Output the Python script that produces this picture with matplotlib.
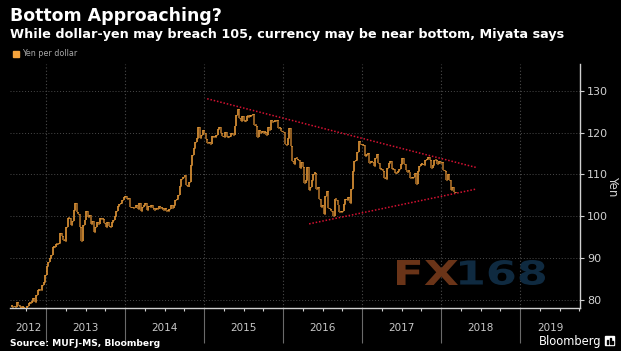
import numpy as np
import pandas as pd
import matplotlib
matplotlib.use("Agg")
import matplotlib.pyplot as plt
from matplotlib.patches import Rectangle, PathPatch
from matplotlib.textpath import TextPath
from matplotlib.font_manager import FontProperties
from matplotlib.transforms import Affine2D

# weekly closes, yen per dollar (Friday closes from 27 Jul 2012)
close_2012 = [78.4,
              78.3, 78.3, 79.5, 78.7, 78.3,
              78.2, 78.4, 78.1, 77.9,
              78.6, 79.3, 79.4, 79.7,
              80.4, 79.5, 81.3, 82.4, 82.5,
              82.4, 83.5, 84.2, 85.9]
close_2013 = [88.1, 89.2, 90.0, 90.8,
              92.7, 92.7, 93.5, 93.4,
              93.6, 96.0, 95.2, 94.4, 94.2,
              97.5, 99.6, 99.5, 98.0,
              99.0, 101.6, 103.2, 101.0, 100.5,
              97.5, 94.1, 97.9, 99.2,
              101.2, 99.8, 100.4, 98.2,
              98.9, 96.2, 97.5, 98.7, 98.1,
              99.7, 99.4, 99.4, 98.3,
              97.5, 98.6, 97.7, 97.4,
              98.7, 99.1, 100.2, 101.3, 102.4,
              102.9, 103.2, 104.0, 104.6]
close_2014 = [104.9, 104.2, 104.3, 102.3, 102.0,
              102.0, 101.9, 102.6, 101.8,
              103.3, 101.3, 102.3, 102.8,
              103.3, 101.6, 102.4, 102.2,
              102.6, 101.9, 101.5, 101.9, 101.8,
              102.5, 102.0, 102.0, 101.4,
              102.1, 101.3, 101.3, 101.8,
              102.6, 102.0, 102.6, 103.8, 104.1,
              105.0, 107.3, 109.0, 109.3,
              109.8, 107.6, 106.9, 108.1, 112.3,
              114.6, 116.3, 117.8, 118.6,
              121.4, 118.8, 119.5, 120.7]
close_2015 = [119.8, 118.5, 117.5, 117.8, 117.4,
              119.1, 118.9, 119.0, 119.5,
              120.8, 121.4, 120.0, 119.1,
              119.0, 120.2, 118.9, 118.9,
              119.3, 119.8, 119.4, 121.5, 124.1,
              125.6, 123.4, 122.7, 123.9,
              122.8, 122.8, 124.0, 123.8, 123.9,
              124.2, 124.4, 121.9, 121.7,
              119.0, 120.6, 120.0, 120.5,
              120.0, 120.2, 119.4, 121.4, 120.6,
              123.1, 122.6, 122.8, 122.8,
              123.1, 121.0, 121.2, 120.3]
close_2016 = [120.2, 117.2, 117.0, 118.8, 121.1,
              116.8, 113.2, 112.6, 114.0,
              113.8, 113.4, 111.6, 113.0,
              111.7, 108.0, 108.8, 111.8, 106.3,
              107.1, 108.6, 110.2, 110.3,
              106.6, 106.9, 104.1, 102.3,
              102.6, 100.6, 104.9, 106.1, 102.1,
              101.8, 101.3, 100.2, 104.1,
              104.0, 102.7, 101.0, 101.0, 101.3,
              103.0, 104.2, 103.8, 104.7,
              103.1, 106.6, 110.9, 113.2,
              113.5, 115.3, 117.9, 117.3, 117.0]
close_2017 = [117.0, 114.5, 114.6, 115.1,
              112.7, 113.2, 112.9, 112.1,
              114.0, 114.8, 112.7, 111.3, 111.4,
              110.8, 109.1, 109.0, 111.5,
              112.7, 113.3, 111.3, 111.3,
              110.4, 110.3, 110.9, 111.3, 112.4,
              113.9, 112.5, 111.1, 110.7,
              110.7, 109.2, 109.2, 109.4,
              110.3, 107.8, 110.8, 112.0, 112.5,
              112.6, 112.2, 113.5, 113.7,
              114.1, 113.5, 111.5, 112.2,
              113.5, 113.4, 112.6, 113.3, 112.7]
close_2018 = [113.1, 111.0, 110.8, 108.6,
              110.2, 108.8, 106.3, 106.9,
              105.7, 105.6]

# trend lines (decimal year, yen)
upper_x = [2015.04, 2018.44]
upper_y = [128.1, 111.7]
lower_x = [2016.33, 2018.44]
lower_y = [98.2, 106.5]

yticks = [80, 90, 100, 110, 120, 130]
years = [2012, 2013, 2014, 2015, 2016, 2017, 2018, 2019]

closes = np.array(close_2012 + close_2013 + close_2014 + close_2015 +
                  close_2016 + close_2017 + close_2018)
dates = pd.date_range("2012-07-27", periods=len(closes), freq="W-FRI")
xs = dates.year + (dates.dayofyear - 1) / 365.25
opens = np.concatenate([[closes[0]], closes[:-1]])

W, H = 621, 351
def fx(p):
    return p / W
def fy(p):
    return 1 - p / H

fig = plt.figure(figsize=(W / 100, H / 100), dpi=100, facecolor="black")
ax = fig.add_axes([fx(10), fy(308), fx(580) - fx(10), fy(64) - fy(308)])
ax.set_facecolor("black")

xmin, xmax = 2012.544, 2019.759
ax.set_xlim(xmin, xmax)
ax.set_ylim(78.1, 136.4)

# watermark, stretched wide like the original logo (pixel coordinates)
px_to_fig = Affine2D().scale(1.0 / W, 1.0 / H) + fig.transFigure
def wide_text(s, x0, ybase, height, width, color):
    tp = TextPath((0, 0), s, size=100,
                  prop=FontProperties(family="DejaVu Sans", weight="bold"))
    bb = tp.get_extents()
    tr = (Affine2D().translate(-bb.x0, -bb.y0)
          .scale(width / bb.width, height / bb.height)
          .translate(x0, H - ybase))
    fig.patches.append(PathPatch(tr.transform_path(tp), facecolor=color,
                                 edgecolor="none", transform=px_to_fig))

wide_text("FX", 397, 285, 25, 61, "#6a3418")
wide_text("168", 460, 285, 25, 85, "#0f2a40")

# grid
for v in yticks:
    ax.axhline(v, color="#4a4a4a", lw=0.7, ls=(0, (1, 2)), zorder=0)
for yr in years[1:]:
    ax.axvline(yr, color="#4a4a4a", lw=0.8, ls=(0, (1, 2)), zorder=0)

# weekly bars
up = closes >= opens
lo = np.minimum(opens, closes)
hi = np.maximum(opens, closes)
hi = np.where(hi - lo < 0.3, lo + 0.3, hi)
ax.vlines(xs[up], lo[up], hi[up], color="#f5a33c", lw=1.1, zorder=3)
ax.vlines(xs[~up], lo[~up], hi[~up], color="#b8782c", lw=1.1, zorder=3)
ax.hlines(closes, xs, xs + 0.012, color="#f5a33c", lw=0.8, zorder=3)

ax.plot(upper_x, upper_y, color="#d41232", lw=1.1, ls=(0, (1, 1.2)), zorder=2)
ax.plot(lower_x, lower_y, color="#d41232", lw=1.1, ls=(0, (1, 1.2)), zorder=2)

# axes styling
for s in ["top", "left"]:
    ax.spines[s].set_visible(False)
ax.spines["bottom"].set_color("#d0d0d0")
ax.spines["bottom"].set_linewidth(1.0)
ax.spines["right"].set_color("#d0d0d0")
ax.spines["right"].set_linewidth(1.0)

ax.yaxis.tick_right()
ax.set_yticks(yticks)
ax.set_yticklabels([str(v) for v in yticks])
ax.tick_params(axis="y", colors="#d0d0d0", labelcolor="#d0d0d0",
               labelsize=8, length=3, width=0.8, pad=2)

ax.set_xticks(years[1:])
ax.set_xticklabels([])
ax.tick_params(axis="x", which="major", direction="out", length=25,
               color="#6a6a6a", width=0.8)
quarters = [y + q for y in range(2012, 2020) for q in (0.25, 0.5, 0.75)
            if xmin < y + q < xmax]
ax.set_xticks(quarters, minor=True)
ax.tick_params(axis="x", which="minor", direction="out", length=2.5,
               color="#d0d0d0", width=0.8)

for yr in years:
    a, b = max(yr, xmin), min(yr + 1, xmax)
    ax.text((a + b) / 2, -0.083, str(yr), transform=ax.get_xaxis_transform(),
            ha="center", va="center", color="#c8c8c8", fontsize=7.5)

fig.text(fx(613), fy(186), "Yen", rotation=270, ha="center", va="center",
         color="#d0d0d0", fontsize=8.5)

# titles and legend
fig.text(fx(10), fy(16), "Bottom Approaching?", ha="left", va="center",
         color="white", fontsize=12.5, fontweight="bold")
fig.text(fx(10), fy(34.5), "While dollar-yen may breach 105, currency may be near bottom, Miyata says",
         ha="left", va="center", color="white", fontsize=9.2, fontweight="bold")
fig.patches.append(Rectangle((fx(13), fy(57)), fx(6), 6 / H, color="#f5a33c",
                             transform=fig.transFigure))
fig.text(fx(22), fy(54), "Yen per dollar", ha="left", va="center",
         color="#a8a8a8", fontsize=5.8)

# footer
fig.text(fx(10), fy(343), "Source: MUFJ-MS, Bloomberg", ha="left", va="center",
         color="white", fontsize=6.6, fontweight="bold")
fig.text(fx(601), fy(341), "Bloomberg", ha="right", va="center",
         color="white", fontsize=8.3)
fig.patches.append(Rectangle((fx(605), fy(345)), fx(9), 9 / H, color="white",
                             transform=fig.transFigure))
for bx, bh in [(607, 4), (609.5, 6), (612, 3)]:
    fig.patches.append(Rectangle((fx(bx), fy(344)), fx(1.2), bh / H,
                                 color="black", transform=fig.transFigure))

fig.savefig("out.png", dpi=100, facecolor="black")
